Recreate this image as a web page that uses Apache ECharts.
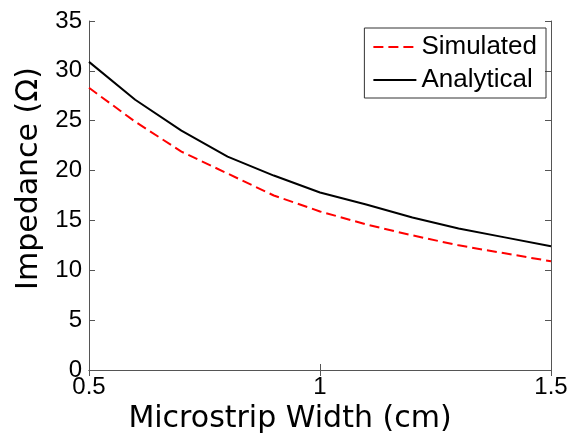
<!DOCTYPE html>
<html>
<head>
<meta charset="utf-8">
<script src="https://cdn.jsdelivr.net/npm/echarts@6/dist/echarts.min.js"></script>
<style>
  html, body { margin: 0; padding: 0; background: #fff; }
  #container { width: 571px; height: 439px; }
</style>
</head>
<body>
<div id="container"></div>
<script>
// microstrip width (cm)
var widths = [0.5, 0.6, 0.7, 0.8, 0.9, 1.0, 1.1, 1.2, 1.3, 1.4, 1.5];
var simulated = [28.3, 24.9, 21.9, 19.7, 17.5, 15.9, 14.6, 13.5, 12.5, 11.7, 10.9];
var analytical = [30.9, 27.1, 24.0, 21.4, 19.5, 17.8, 16.6, 15.3, 14.2, 13.3, 12.4];

function pairs(ys) {
    return widths.map(function (x, i) { return [x, ys[i]]; });
}

var charts = echarts.init(document.getElementById('container'));
var axisColor = '#555';
var tickFont = { fontFamily: 'Liberation Sans', fontSize: 24, color: '#000' };

var option = {
    backgroundColor: '#fff',
    animation: false,
    grid: { left: 89, right: 20, top: 21, bottom: 69 },
    legend: {
        orient: 'vertical',
        right: 25,
        top: 28,
        borderColor: '#333',
        borderWidth: 1,
        padding: [6, 9, 5, 8],
        itemGap: 7,
        itemWidth: 43,
        itemHeight: 14,
        itemStyle: { opacity: 0 },
        textStyle: { fontFamily: 'Liberation Sans', fontSize: 26, color: '#000' },
        data: ['Simulated', 'Analytical']
    },
    xAxis: [{
        type: 'value',
        min: 0.5, max: 1.5, interval: 0.5,
        name: 'Microstrip Width (cm)',
        nameLocation: 'middle',
        nameGap: 34,
        nameTextStyle: { fontFamily: 'DejaVu Sans', fontSize: 30, color: '#000', padding: [0, 60, 0, 0] },
        axisLine: { lineStyle: { color: axisColor } },
        axisTick: { inside: true, length: 6, lineStyle: { color: axisColor } },
        axisLabel: Object.assign({ margin: 5, formatter: function (v) { return String(v); } }, tickFont),
        splitLine: { show: false }
    }, {
        type: 'value', position: 'top',
        min: 0.5, max: 1.5, interval: 0.5,
        axisLine: { show: true, lineStyle: { color: axisColor } },
        axisTick: { inside: true, length: 6, lineStyle: { color: axisColor } },
        axisLabel: { show: false },
        splitLine: { show: false }
    }],
    yAxis: [{
        type: 'value',
        min: 0, max: 35, interval: 5,
        name: 'Impedance (Ω)',
        nameLocation: 'middle',
        nameGap: 43,
        nameTextStyle: { fontFamily: 'DejaVu Sans', fontSize: 30, color: '#000', padding: [0, 0, 0, 34] },
        axisLine: { show: true, lineStyle: { color: axisColor } },
        axisTick: { show: true, inside: true, length: 6, lineStyle: { color: axisColor } },
        axisLabel: Object.assign({ margin: 7 }, tickFont),
        splitLine: { show: false }
    }, {
        type: 'value', position: 'right',
        min: 0, max: 35, interval: 5,
        axisLine: { show: true, lineStyle: { color: axisColor } },
        axisTick: { show: true, inside: true, length: 6, lineStyle: { color: axisColor } },
        axisLabel: { show: false },
        splitLine: { show: false }
    }],
    series: [{
        name: 'Simulated',
        type: 'line',
        data: pairs(simulated),
        symbol: 'none',
        itemStyle: { color: '#ff0000' },
        lineStyle: { color: '#ff0000', width: 2, type: [10, 5] }
    }, {
        name: 'Analytical',
        type: 'line',
        data: pairs(analytical),
        symbol: 'none',
        itemStyle: { color: '#000' },
        lineStyle: { color: '#000', width: 2 }
    }]
};
charts.setOption(option);
</script>
</body>
</html>
